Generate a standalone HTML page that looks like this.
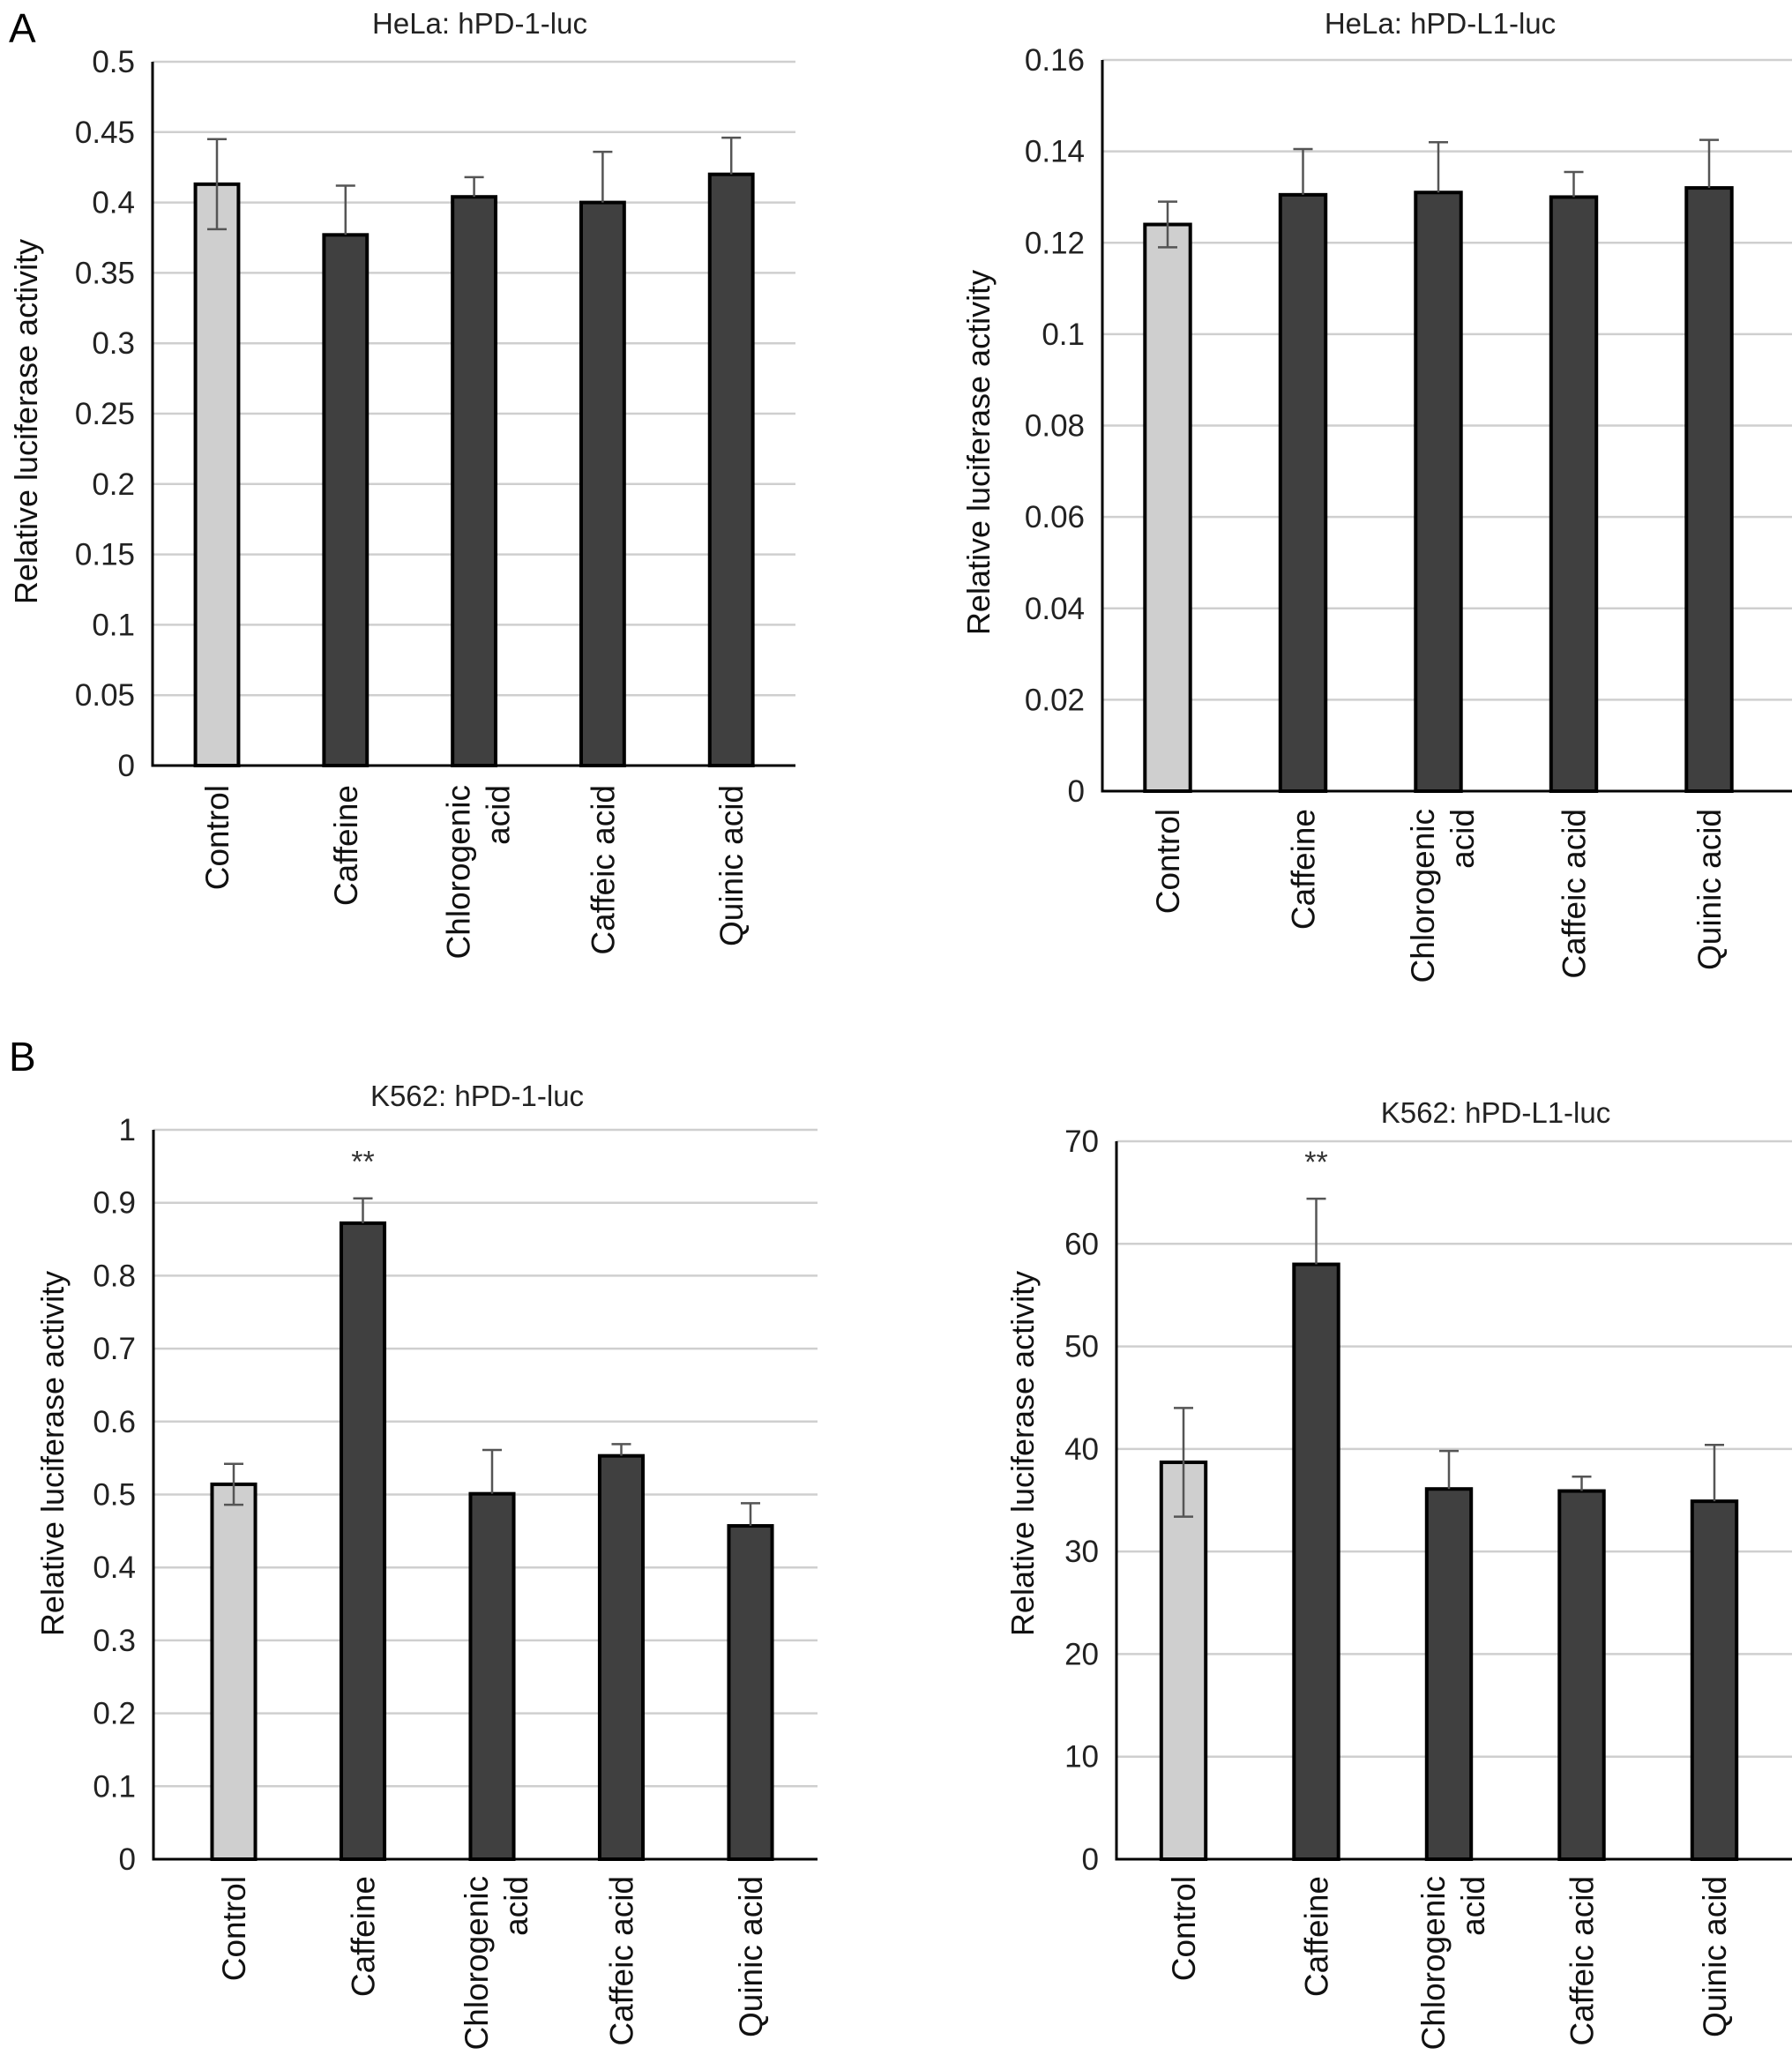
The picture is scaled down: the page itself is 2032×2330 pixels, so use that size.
<!DOCTYPE html>
<html><head><meta charset="utf-8"><style>
html,body{margin:0;padding:0;background:#fff}
svg{display:block;font-family:"Liberation Sans",sans-serif}
</style></head><body>
<svg id="fig" width="2032" height="2330" viewBox="0 0 2032 2330">
<text x="10" y="48" font-size="46">A</text>
<text x="10" y="1214" font-size="46">B</text>
</svg>
<script>
const categories = ["Control","Caffeine","Chlorogenic acid","Caffeic acid","Quinic acid"];
const a1Values = [0.413,0.377,0.404,0.400,0.420];
const a1Err = [0.032,0.035,0.014,0.036,0.026];
const a1Ticks = ["0","0.05","0.1","0.15","0.2","0.25","0.3","0.35","0.4","0.45","0.5"];
const a2Values = [0.124,0.1305,0.131,0.130,0.132];
const a2Err = [0.005,0.010,0.011,0.0055,0.0105];
const a2Ticks = ["0","0.02","0.04","0.06","0.08","0.1","0.12","0.14","0.16"];
const b1Values = [0.514,0.872,0.501,0.553,0.457];
const b1Err = [0.028,0.034,0.060,0.016,0.031];
const b1Ticks = ["0","0.1","0.2","0.3","0.4","0.5","0.6","0.7","0.8","0.9","1"];
const b2Values = [38.7,58.0,36.1,35.9,34.9];
const b2Err = [5.3,6.4,3.7,1.4,5.5];
const b2Ticks = ["0","10","20","30","40","50","60","70"];
const b1Stars = ["","**","","",""];
const b2Stars = ["","**","","",""];

const NS="http://www.w3.org/2000/svg";
const svg=document.getElementById('fig');
function mk(tag,attrs,parent){const e=document.createElementNS(NS,tag);for(const k in attrs)e.setAttribute(k,attrs[k]);(parent||svg).appendChild(e);return e;}

function chart(id,title,cfg,values,errs,ticks,stars){
  const g=mk('g',{});
  
  
  const maxV=parseFloat(ticks[ticks.length-1]);
  const y=v=>cfg.y0-(v/maxV)*(cfg.y0-cfg.yTop);
  const x=i=>cfg.c0+i*cfg.step;
  ticks.forEach(t=>{
    const v=parseFloat(t),yy=y(v);
    if(v>0){const gl=mk('line',{x1:cfg.ax,x2:cfg.right,y1:yy,y2:yy,stroke:'#cfcfcf','stroke-width':2.5},g);
      
      }
    const tl=mk('text',{x:cfg.ax-20,y:yy+12,'font-size':35,'text-anchor':'end',fill:'#222'},g);
    tl.textContent=t;
    
    
  });
  const bw=cfg.step*0.335;
  values.forEach((v,i)=>{
    const cx=x(i),top=y(v);
    const b=mk('rect',{x:cx-bw/2,y:top,width:bw,height:cfg.y0-top,fill:i===0?'#cfcfcf':'#404040',stroke:'#000','stroke-width':4},g);
    
    
    const ylo=i===0?y(v-errs[i]):top, yhi=y(v+errs[i]);
    const e=mk('path',{d:`M${cx} ${ylo}V${yhi}M${cx-11} ${yhi}H${cx+11}`+(i===0?`M${cx-11} ${ylo}H${cx+11}`:''),stroke:'#555','stroke-width':2.5,fill:'none'},g);
    
    
    if(stars&&stars[i]){const s=mk('text',{x:cx,y:yhi-30,'font-size':34,'text-anchor':'middle',fill:'#333'},g);
      s.textContent=stars[i];
      
      }
    const parts=categories[i]==="Chlorogenic acid"?["Chlorogenic","acid"]:[categories[i]];
    parts.forEach((p,k)=>{
      const lx=cx+(parts.length>1?(k===0?-5:40):13);
      const t=mk('text',{x:0,y:0,'font-size':37,'text-anchor':'end',fill:'#111',transform:`translate(${lx},${cfg.labTop}) rotate(-90)`},g);
      t.textContent=p;
      
      
    });
  });
  const ax=mk('path',{d:`M${cfg.ax} ${cfg.yTop}V${cfg.y0}H${cfg.right}`,stroke:'#000','stroke-width':3,fill:'none'},g);
  
  
  const tt=mk('text',{x:cfg.tx,y:cfg.ty,'font-size':33,'text-anchor':'middle',fill:'#222'},g);
  tt.textContent=title;
  
  
  const yt=mk('text',{x:0,y:0,'font-size':36,'text-anchor':'middle',fill:'#111',transform:`translate(${cfg.ytx},${cfg.ytc}) rotate(-90)`},g);
  yt.textContent="Relative luciferase activity";
  
  
}
chart('a1','HeLa: hPD-1-luc',{ax:173,yTop:70,y0:868,right:902,c0:246,step:145.8,labTop:890,tx:544,ty:38,ytx:42,ytc:478},a1Values,a1Err,a1Ticks,null);
chart('a2','HeLa: hPD-L1-luc',{ax:1250,yTop:68,y0:897,right:2032,c0:1324,step:153.5,labTop:917,tx:1633,ty:38,ytx:1122,ytc:513},a2Values,a2Err,a2Ticks,null);
chart('b1','K562: hPD-1-luc',{ax:174,yTop:1281,y0:2108,right:927,c0:265,step:146.5,labTop:2127,tx:541,ty:1254,ytx:72,ytc:1648},b1Values,b1Err,b1Ticks,b1Stars);
chart('b2','K562: hPD-L1-luc',{ax:1266,yTop:1294,y0:2108,right:2032,c0:1342,step:150.5,labTop:2127,tx:1696,ty:1273,ytx:1172,ytc:1648},b2Values,b2Err,b2Ticks,b2Stars);
</script>
</body></html>
